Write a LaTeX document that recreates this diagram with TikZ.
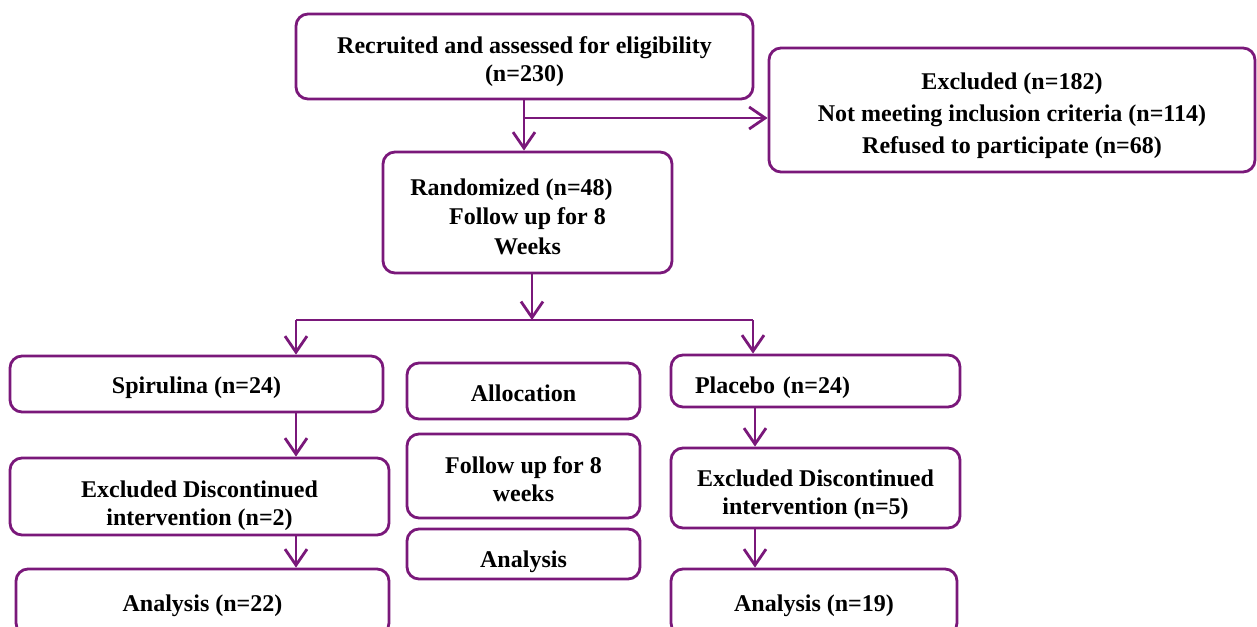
\documentclass[tikz,border=0pt]{standalone}
\usepackage{fontspec}
\setmainfont{Liberation Serif}
\usetikzlibrary{arrows.meta}
\definecolor{lila}{RGB}{122,24,122}

\begin{document}
\begin{tikzpicture}[x=1pt, y=-1pt,
  box/.style={draw=lila, line width=2.8pt, rounded corners=12pt, fill=white,
    inner sep=0pt, align=center, text height=30pt, text depth=11pt,
    font=\fontsize{24}{28}\selectfont\bfseries},
  multi/.style={text height=#1, text depth=5pt},
  fleche/.style={draw=lila, line width=2.8pt, -{Straight Barb[length=16pt,width=22pt]}},
  ligne/.style={draw=lila, line width=2.8pt}]
 \useasboundingbox (0,0) rectangle (1257,626);
 \clip (0,0) rectangle (1257,626);

	% Boites du haut
 \node[box, multi=55pt, minimum width=457, minimum height=85] (recrut) at (524.5,56.5)
   {Recruited and assessed for eligibility\\(n=230)};
 \node[box, multi=92pt, minimum width=486, minimum height=124] (exclu) at (1012,110)
   {Excluded (n=182)\\[4pt]Not meeting inclusion criteria (n=114)\\[4pt]Refused to participate (n=68)};
 \node[box, multi=88pt, minimum width=289, minimum height=121] (rando) at (527.5,212.5)
   {Randomized (n=48)\hspace*{32pt}\\[1.5pt]Follow up for 8\\[1.5pt]Weeks};

	% Colonne gauche
 \node[box, minimum width=373, minimum height=56] (spir) at (196.5,384) {Spirulina (n=24)};
 \node[box, multi=63pt, minimum width=379, minimum height=77] (exclS) at (199.5,496.5)
   {Excluded Discontinued\\intervention (n=2)};
 \node[box, minimum width=373, minimum height=66] (anaS) at (202.5,602) {Analysis (n=22)};

	% Colonne du milieu
 \node[box, minimum width=233, minimum height=56, text depth=9pt] (alloc) at (523.5,391) {Allocation};
 \node[box, multi=56pt, minimum width=233, minimum height=84] (suivi) at (523.5,476) {Follow up for 8\\weeks};
 \node[box, minimum width=233, minimum height=50, text depth=3pt] (ana) at (523.5,554) {Analysis};

	% Colonne droite
 \node[box, minimum width=289, minimum height=52, text depth=5pt, text width=241pt, inner xsep=24pt, align=left]
   (plac) at (815.5,381) {Placebo (n=24)};
 \node[box, multi=58pt, minimum width=289, minimum height=80] (exclP) at (815.5,488)
   {Excluded Discontinued\\intervention (n=5)};
 \node[box, minimum width=286, minimum height=66] (anaP) at (814,602) {Analysis (n=19)};

	% Points de branchement
 \coordinate (b1) at (524,118);
 \coordinate (s0) at (532,320);
 \coordinate (sl) at (296,320);
 \coordinate (sr) at (753,320);
 \coordinate (pr) at (755,320);

	% Liaisons
 \draw[fleche] (recrut.south -| b1) -- (rando.north -| b1);
 \draw[fleche] (b1) -- (b1 -| exclu.west);
 \draw[fleche] (rando.south -| s0) -- (s0);
 \draw[ligne] (sl) -- (sr);
 \draw[fleche] (sl) -- (sl |- spir.north);
 \draw[fleche] (sr) -- (sr |- plac.north);

 \draw[fleche] (spir.south -| sl) -- (exclS.north -| sl);
 \draw[fleche] (exclS.south -| sl) -- (anaS.north -| sl);
 \draw[fleche] (plac.south -| pr) -- (exclP.north -| pr);
 \draw[fleche] (exclP.south -| pr) -- (anaP.north -| pr);

\end{tikzpicture}
\end{document}
